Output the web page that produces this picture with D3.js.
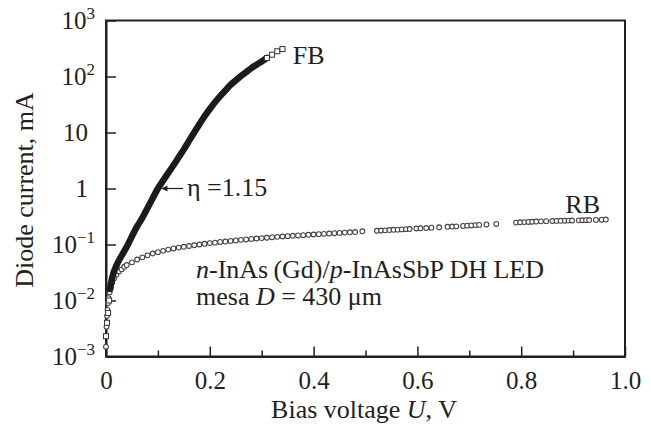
<!DOCTYPE html>
<html lang="en">
<head>
<meta charset="UTF-8">
<title>Diode I-V</title>
<script src="https://cdn.jsdelivr.net/npm/d3@7"></script>
<style>
*{margin:0; padding:0;}
body{background:#fff;}
svg text{font-family:"Liberation Serif","Times New Roman",serif; fill:#231f20;}
.axis path, .axis line{stroke:#231f20;}
.axis path{stroke-width:2;}
.axis line{stroke-width:1.5;}
</style>
</head>
<body>
<script>
// forward bias (V, mA)
var fbVoltage = [0, 0.002, 0.004, 0.006, 0.008, 0.010, 0.015, 0.020, 0.030, 0.040,
	0.050, 0.060, 0.070, 0.080, 0.090, 0.100, 0.110, 0.120, 0.130, 0.140,
	0.150, 0.160, 0.170, 0.180, 0.190, 0.200, 0.210, 0.220, 0.230, 0.240,
	0.250, 0.260, 0.270, 0.280, 0.290, 0.300, 0.310, 0.320, 0.330, 0.340];
var fbCurrent = [0.0023, 0.004, 0.006, 0.010, 0.016, 0.021, 0.032, 0.042, 0.063, 0.091,
	0.14, 0.21, 0.30, 0.45, 0.67, 1.0, 1.38, 1.9, 2.6, 3.6,
	5.0, 7.1, 10, 14.1, 19.5, 26.3, 34.7, 44.7, 56.2, 70.8,
	85, 102, 120, 141, 162, 186, 214, 245, 282, 309];

// reverse bias
var rbVoltage = [0, 0.001, 0.002, 0.003, 0.004, 0.005, 0.007, 0.009, 0.012, 0.016,
	0.020, 0.025, 0.030, 0.035, 0.040, 0.050, 0.060, 0.070, 0.080, 0.090,
	0.100, 0.110, 0.120, 0.130, 0.140, 0.150, 0.160, 0.170, 0.180, 0.190,
	0.200, 0.210, 0.220, 0.230, 0.240, 0.250, 0.260, 0.270, 0.280, 0.290,
	0.300, 0.310, 0.320, 0.330, 0.340, 0.350, 0.360, 0.370, 0.380, 0.390,
	0.400, 0.410, 0.420, 0.430, 0.440, 0.450, 0.460, 0.470, 0.480, 0.494,
	0.522, 0.530, 0.538, 0.546, 0.554, 0.562, 0.570, 0.578, 0.585, 0.598,
	0.606, 0.617, 0.627, 0.642, 0.658, 0.667, 0.675, 0.688, 0.696, 0.704,
	0.712, 0.719, 0.733, 0.752, 0.790, 0.798, 0.806, 0.814, 0.821, 0.829,
	0.838, 0.848, 0.860, 0.868, 0.876, 0.884, 0.891, 0.898, 0.911, 0.918,
	0.925, 0.931, 0.944, 0.955, 0.963];
var rbCurrent = [0.0015, 0.0034, 0.0053, 0.0068, 0.009, 0.011, 0.014, 0.017, 0.021, 0.025,
	0.029, 0.033, 0.036, 0.040, 0.043, 0.048, 0.054, 0.059, 0.064, 0.069,
	0.073, 0.077, 0.081, 0.085, 0.088, 0.091, 0.094, 0.097, 0.100, 0.103,
	0.106, 0.108, 0.111, 0.113, 0.116, 0.118, 0.121, 0.123, 0.126, 0.128,
	0.130, 0.132, 0.135, 0.137, 0.139, 0.141, 0.143, 0.145, 0.147, 0.149,
	0.151, 0.153, 0.155, 0.157, 0.159, 0.161, 0.163, 0.165, 0.167, 0.172,
	0.176, 0.178, 0.179, 0.181, 0.183, 0.184, 0.186, 0.188, 0.189, 0.193,
	0.195, 0.197, 0.200, 0.203, 0.207, 0.209, 0.211, 0.215, 0.217, 0.219,
	0.222, 0.224, 0.228, 0.233, 0.246, 0.249, 0.251, 0.253, 0.255, 0.257,
	0.259, 0.261, 0.263, 0.264, 0.265, 0.266, 0.267, 0.268, 0.270, 0.271,
	0.272, 0.273, 0.275, 0.277, 0.279];

var xTicks = [0, 0.2, 0.4, 0.6, 0.8, 1.0];
var xMinorTicks = [0.1, 0.3, 0.5, 0.7, 0.9];
var yTicks = [1e-3, 1e-2, 1e-1, 1, 10, 100, 1000];
var yTickBase = ["10", "10", "10", "1", "10", "10", "10"];
var yTickExp = ["\u22123", "\u22122", "\u22121", "", "", "2", "3"];

var width = 651, height = 433;
var margin = {left:106, right:26, top:20.5, bottom:76.5};
var w = width - margin.left - margin.right;
var h = height - margin.top - margin.bottom;
var serif = '"Liberation Serif","Times New Roman",serif';

var svg = d3.select("body").append("svg")
	.attr("width", width)
	.attr("height", height)
	.attr("font-family", serif);

var main = svg.append("g")
	.attr("transform", "translate(" + margin.left + "," + margin.top + ")");

var x = d3.scaleLinear().domain([0, 1]).range([0, w]);
var y = d3.scaleLog().domain([1e-3, 1e3]).range([h, 0]);

// frame
main.append("rect")
	.attr("width", w).attr("height", h)
	.attr("fill", "none").attr("stroke", "#231f20").attr("stroke-width", 2);

// x axis, ticks pointing inward
var xAxis = main.append("g").attr("class", "axis")
	.attr("transform", "translate(0," + h + ")")
	.call(d3.axisBottom(x).tickValues(xTicks).tickSizeInner(-10).tickSizeOuter(0)
		.tickPadding(15).tickFormat(function(d){ return d === 0 ? "0" : d.toFixed(1); }));
xAxis.attr("font-family", serif);
xAxis.selectAll("text").attr("font-size", 25);
main.append("g").attr("class", "axis")
	.attr("transform", "translate(0," + h + ")")
	.call(d3.axisBottom(x).tickValues(xMinorTicks).tickSizeInner(-6).tickSizeOuter(0).tickFormat(""))
	.select(".domain").remove();

// y axis
var yAxis = main.append("g").attr("class", "axis")
	.call(d3.axisLeft(y).tickValues(yTicks).tickSizeInner(-10).tickSizeOuter(0).tickFormat(""));
yAxis.attr("font-family", serif);
yAxis.selectAll(".tick").each(function(d, i){
	var t = d3.select(this).append("text")
		.attr("x", yTickExp[i] ? -11 : -18)
		.attr("y", 8)
		.attr("text-anchor", "end")
		.attr("font-size", 25);
	t.append("tspan").text(yTickBase[i]);
	if (yTickExp[i]) {
		t.append("tspan").attr("font-size", 17).attr("dy", -10).text(yTickExp[i]);
	}
});

// axis titles
svg.append("text")
	.attr("x", 364).attr("y", 418)
	.attr("text-anchor", "middle").attr("font-size", 26)
	.call(function(t){
		t.append("tspan").text("Bias voltage ");
		t.append("tspan").attr("font-style", "italic").text("U");
		t.append("tspan").text(", V");
	});
svg.append("text")
	.attr("transform", "translate(33,190) rotate(-90)")
	.attr("text-anchor", "middle").attr("font-size", 26)
	.text("Diode current, mA");

var fbData = fbVoltage.map(function(v, i){ return {v:v, i:fbCurrent[i]}; });
var rbData = rbVoltage.map(function(v, i){ return {v:v, i:rbCurrent[i]}; });

// FB: the dense markers form a thick band
var band = d3.line()
	.x(function(d){ return x(d.v); })
	.y(function(d){ return y(d.i); })
	.curve(d3.curveMonotoneX);

// RB open circles
main.append("g").selectAll("circle")
	.data(rbData).enter().append("circle")
	.attr("cx", function(d){ return x(d.v); })
	.attr("cy", function(d){ return y(d.i); })
	.attr("r", 2.4)
	.attr("fill", "#fff")
	.attr("stroke", "#444")
	.attr("stroke-width", 1.1);

main.append("path")
	.datum(fbData.filter(function(d){ return d.v >= 0.008 && d.v <= 0.31; }))
	.attr("d", band)
	.attr("fill", "none")
	.attr("stroke", "#1c1a1b")
	.attr("stroke-width", 6.5)
	.attr("stroke-linecap", "round");

main.append("g").selectAll("rect")
	.data(fbData.filter(function(d){ return d.v < 0.008 || d.v > 0.305; }))
	.enter().append("rect")
	.attr("x", function(d){ return x(d.v) - 2.5; })
	.attr("y", function(d){ return y(d.i) - 2.5; })
	.attr("width", 5).attr("height", 5)
	.attr("fill", "#fff")
	.attr("stroke", "#333")
	.attr("stroke-width", 1);

// labels
main.append("text").attr("x", x(0.36)).attr("y", y(300) + 14)
	.attr("font-size", 26).text("FB");
main.append("text").attr("x", x(0.885)).attr("y", y(0.35) - 1)
	.attr("font-size", 26).text("RB");

// eta annotation with arrow
var arrowAt = {v:0.106, i:1.0};
svg.append("defs").append("marker")
	.attr("id", "head").attr("viewBox", "0 0 10 10")
	.attr("refX", 9).attr("refY", 5)
	.attr("markerWidth", 7).attr("markerHeight", 5)
	.attr("orient", "auto")
	.append("path").attr("d", "M0,0L10,5L0,10z").attr("fill", "#231f20");
main.append("line")
	.attr("x1", x(arrowAt.v) + 22).attr("y1", y(arrowAt.i))
	.attr("x2", x(arrowAt.v) + 1).attr("y2", y(arrowAt.i))
	.attr("stroke", "#231f20").attr("stroke-width", 1.2)
	.attr("marker-end", "url(#head)");
main.append("text").attr("x", x(arrowAt.v) + 26).attr("y", y(arrowAt.i) + 7)
	.attr("font-size", 26).text("\u03b7 =1.15");

// sample description
var note = main.append("text").attr("x", 90).attr("y", 257).attr("font-size", 26);
note.append("tspan").attr("font-style", "italic").text("n");
note.append("tspan").text("-InAs\u2009(Gd)/");
note.append("tspan").attr("font-style", "italic").text("p");
note.append("tspan").text("-InAsSbP DH LED");
var note2 = main.append("text").attr("x", 90).attr("y", 284).attr("font-size", 26);
note2.append("tspan").text("mesa ");
note2.append("tspan").attr("font-style", "italic").text("D");
note2.append("tspan").text(" = 430 \u03bcm");
</script>
</body>
</html>
